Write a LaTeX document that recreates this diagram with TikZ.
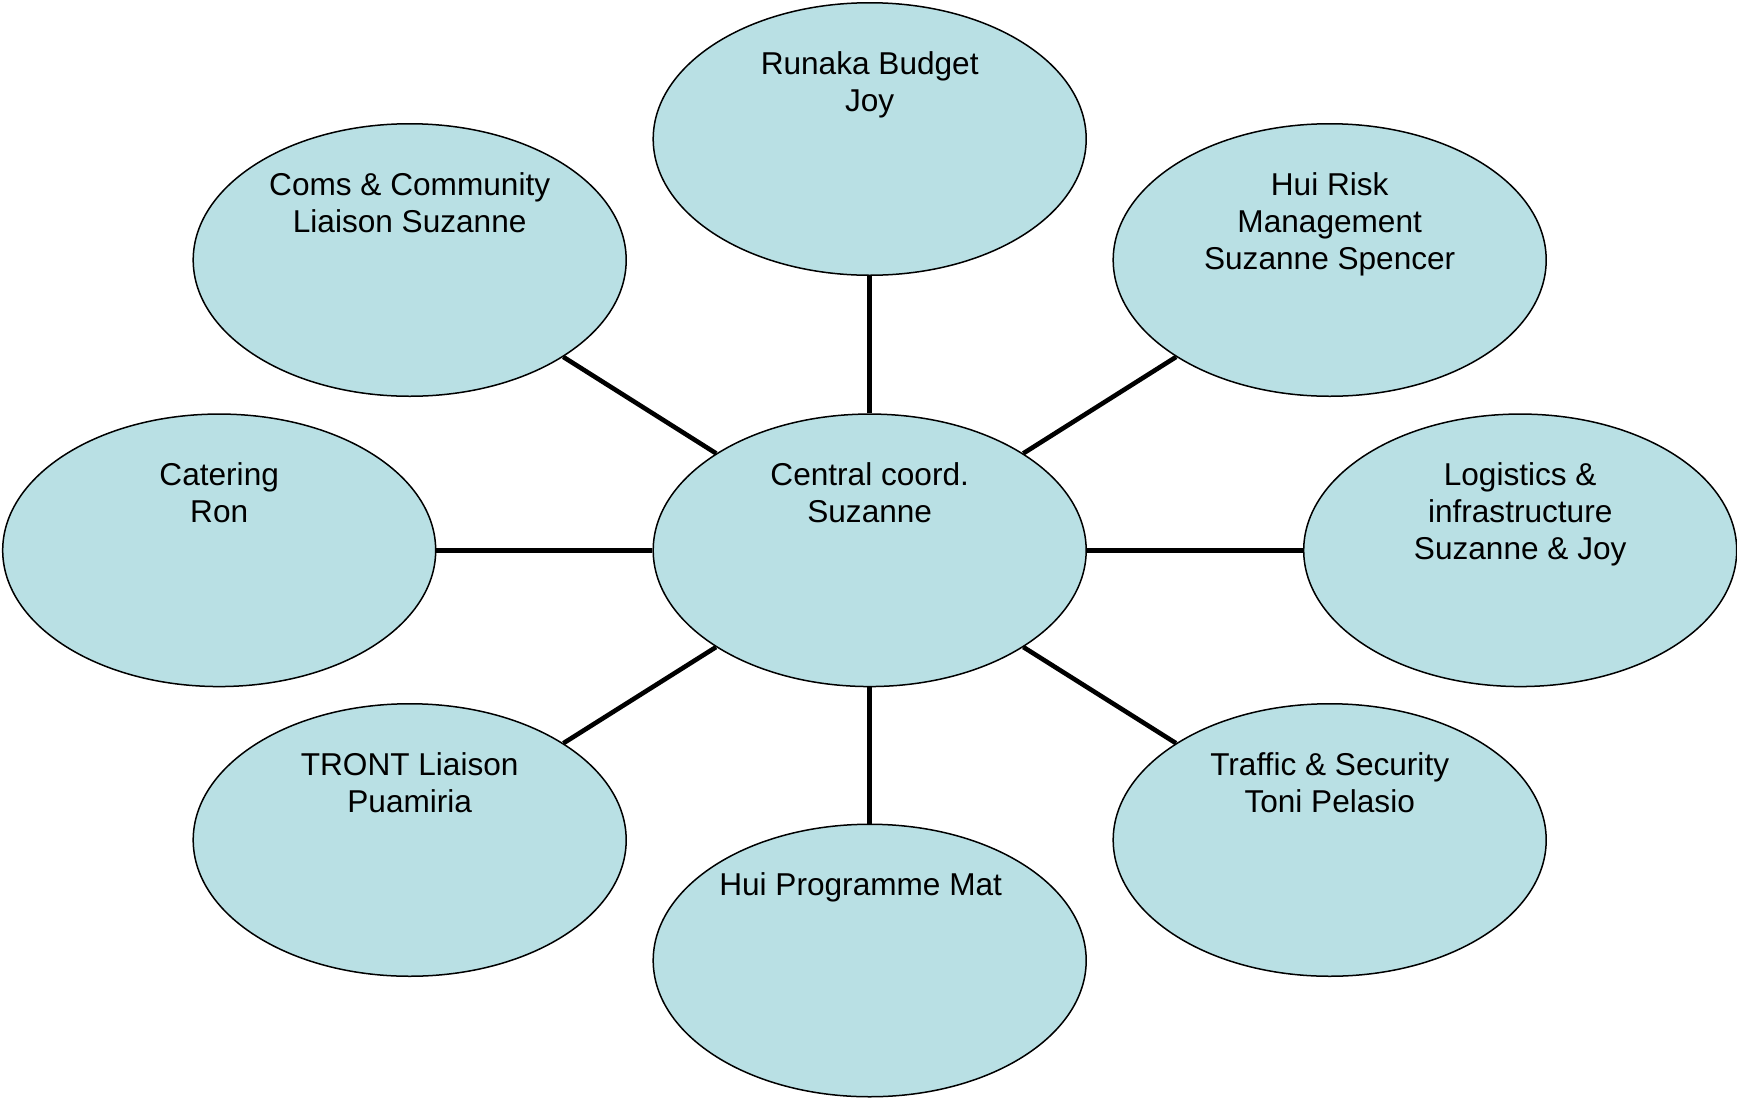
\documentclass[tikz,border=0pt]{standalone}
\usepackage{fontspec}
\setmainfont{Liberation Sans}
\usetikzlibrary{shapes.geometric}
\definecolor{bubble}{RGB}{185,224,228}
\tikzset{
  bub/.style={ellipse, draw=black, line width=0.75pt, fill=bubble,
    minimum width=216.5pt, minimum height=136.25pt, inner sep=0pt},
  lbl/.style={anchor=north, inner sep=0pt, align=center,
    font=\fontsize{15.8}{18.5}\selectfont},
  link/.style={draw=black, line width=2.3pt}
}
\begin{document}
\begin{tikzpicture}[x=0.5pt,y=-0.5pt]
\useasboundingbox (0,0) rectangle (1737,1099);
% bubbles
\node[bub] (cen) at (869.7,550.3) {};
\node[bub] (bud) at (869.7,139) {};
\node[bub] (com) at (409.7,260) {};
\node[bub] (ris) at (1329.7,260) {};
\node[bub] (cat) at (219.2,550.3) {};
\node[bub] (log) at (1520.2,550.3) {};
\node[bub] (tro) at (409.7,840) {};
\node[bub] (tra) at (1329.7,840) {};
\node[bub] (pro) at (869.7,960.5) {};
% connectors
\foreach \n in {bud,com,ris,cat,log,tro,tra,pro}
  \draw[link] (cen) -- (\n);
% labels
\node[lbl] (tcen) at (869.7,462.3) {Central coord.\\Suzanne};
\node[lbl] (tbud) at (869.7,51) {Runaka Budget\\Joy};
\node[lbl] (tcom) at (409.7,172) {Coms \& Community\\Liaison Suzanne};
\node[lbl] (tris) at (1329.7,172) {Hui Risk\\Management\\Suzanne Spencer};
\node[lbl] (tcat) at (219.2,462.3) {Catering\\Ron};
\node[lbl] (tlog) at (1520.2,462.3) {Logistics \&\\infrastructure\\Suzanne \& Joy};
\node[lbl] (ttro) at (409.7,752) {TRONT Liaison\\Puamiria};
\node[lbl] (ttra) at (1329.7,752) {Traffic \& Security\\Toni Pelasio};
\node[lbl] (tpro) at (860.7,872.5) {Hui Programme Mat};
\end{tikzpicture}
\end{document}
